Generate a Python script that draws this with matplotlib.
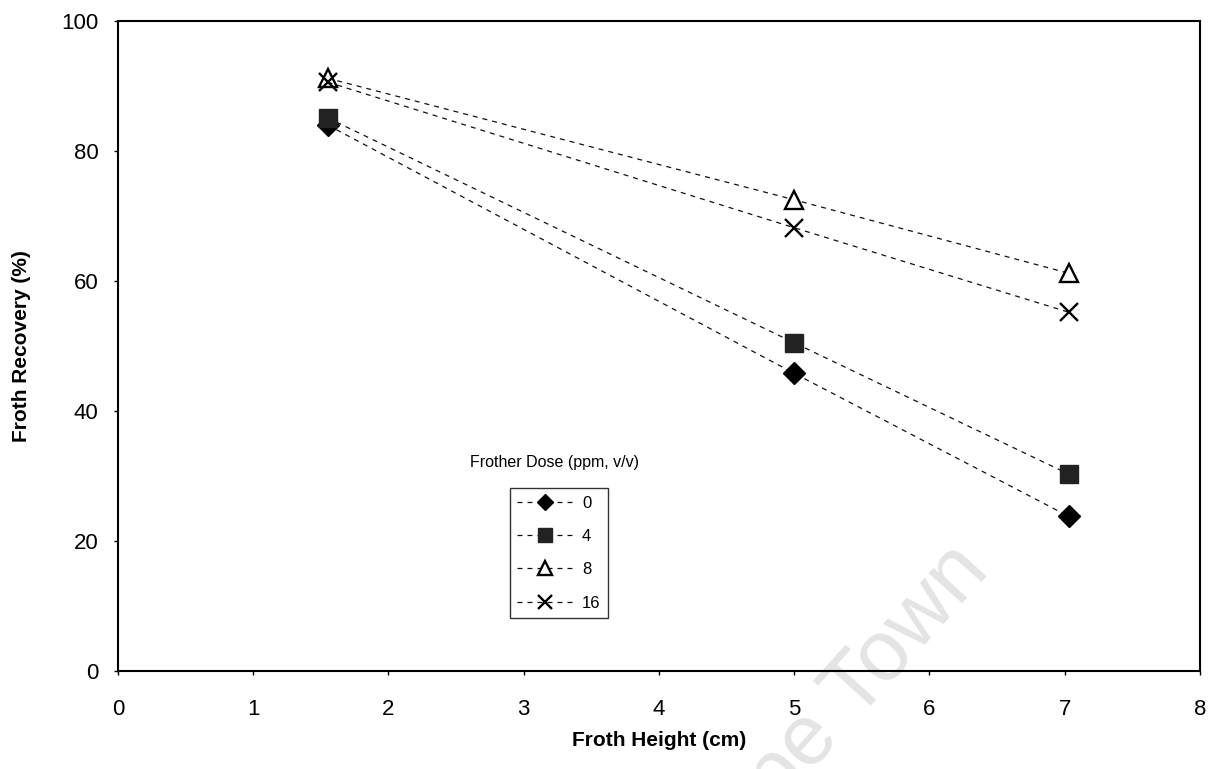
import matplotlib
matplotlib.use("Agg")
import matplotlib.pyplot as plt

plt.rcParams['font.family'] = ['Liberation Sans', 'DejaVu Sans']

froth_height = [1.55, 5.0, 7.03]
doses = ["0", "4", "8", "16"]
rec_0 = [84.0, 45.8, 23.8]
rec_4 = [85.1, 50.5, 30.3]
rec_8 = [91.2, 72.5, 61.2]
rec_16 = [90.6, 68.2, 55.2]

x_ticks = [0, 1, 2, 3, 4, 5, 6, 7, 8]
y_ticks = [0, 20, 40, 60, 80, 100]

fig = plt.figure(figsize=(12.08, 7.69), dpi=100)
ax = fig.add_axes([0.0977, 0.1274, 0.8955, 0.8453])
ax.patch.set_visible(False)

styles = [
    dict(marker='D', markersize=11, markerfacecolor='black', markeredgecolor='black'),
    dict(marker='s', markersize=13, markerfacecolor='#222222', markeredgecolor='#222222'),
    dict(marker='^', markersize=13, markerfacecolor='white', markeredgecolor='black', markeredgewidth=1.7),
    dict(marker='x', markersize=13, markeredgecolor='black', markeredgewidth=1.7),
]
series = [rec_0, rec_4, rec_8, rec_16]
handles = []
for vals, st, lab in zip(series, styles, doses):
    h, = ax.plot(froth_height, vals, color='#111111', linestyle=(0, (4, 4)), linewidth=0.9,
                 label=lab, **st)
    handles.append(h)

ax.set_xlim(0, 8)
ax.set_ylim(0, 100)
ax.set_xticks(x_ticks)
ax.set_yticks(y_ticks)
ax.tick_params(axis='both', labelsize=16, length=3, width=1, direction='out')
ax.tick_params(axis='x', pad=17)
ax.tick_params(axis='y', pad=11)
for s in ax.spines.values():
    s.set_linewidth(1.5)

ax.set_xlabel("Froth Height (cm)", fontsize=15, fontweight='bold', labelpad=8)
ax.set_ylabel("Froth Recovery (%)", fontsize=15, fontweight='bold', labelpad=22)

leg = ax.legend(handles=handles, loc='upper left', bbox_to_anchor=(0.362, 0.2815),
                fontsize=12, frameon=True, fancybox=False, edgecolor='black',
                handlelength=3.3, handletextpad=0.6, borderpad=0.45, labelspacing=1.1,
                borderaxespad=0)
leg.get_frame().set_linewidth(1.0)
for lh in leg.get_lines():
    lh.set_markersize(lh.get_markersize() * 0.75)
ax.text(0.325, 0.3215, "Frother Dose (ppm, v/v)", transform=ax.transAxes, fontsize=11.5,
        ha='left', va='center')

fig.text(0.688, 0.068, "Cape Town", rotation=48, fontsize=62, color='#e4e4e4',
         ha='center', va='center', rotation_mode='anchor', zorder=-10)

fig.savefig("out.png", dpi=100)
